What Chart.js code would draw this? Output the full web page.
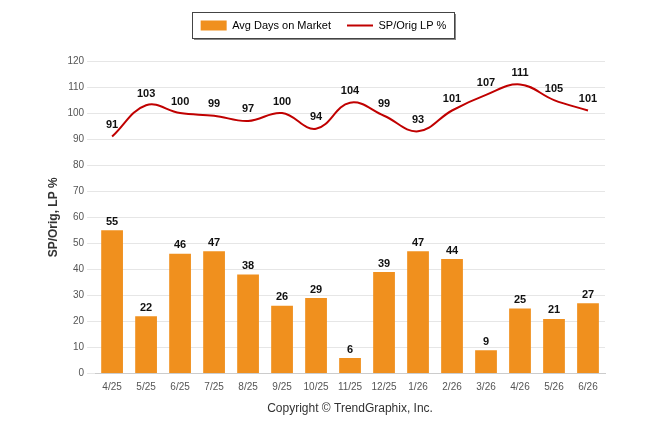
<!DOCTYPE html>
<html>
<head>
<meta charset="utf-8">
<script src="https://cdn.jsdelivr.net/npm/chart.js@4"></script>
<style>
  body { margin: 0; background: #fff; }
  #wrap { width: 646px; height: 434px; position: relative; }
</style>
</head>
<body>
<div id="wrap"><canvas id="chart" width="646" height="434"></canvas></div>
<script>
// data
const months = ['4/25','5/25','6/25','7/25','8/25','9/25','10/25','11/25','12/25','1/26','2/26','3/26','4/26','5/26','6/26'];
const avgDays = [55, 22, 46, 47, 38, 26, 29, 6, 39, 47, 44, 9, 25, 21, 27];
const spOrig = [91, 103, 100, 99, 97, 100, 94, 104, 99, 93, 101, 107, 111, 105, 101];
const yTicks = [0, 10, 20, 30, 40, 50, 60, 70, 80, 90, 100, 110, 120];

// bold value labels above bars and line points
const valueLabels = {
    id: 'valueLabels',
    afterDatasetsDraw(chart) {
        const ctx = chart.ctx;
        ctx.save();
        ctx.font = 'bold 11px Arial, "Liberation Sans", sans-serif';
        ctx.fillStyle = '#111';
        ctx.textAlign = 'center';
        ctx.textBaseline = 'bottom';
        chart.data.datasets.forEach((ds, i) => {
            chart.getDatasetMeta(i).data.forEach((el, j) => {
                ctx.fillText(ds.data[j], el.x, el.y - (ds.type === 'line' ? 6 : 3));
            });
        });
        ctx.restore();
    }
};

// border box with shadow around the legend
const legendBox = {
    id: 'legendBox',
    beforeDraw(chart) {
        const ctx = chart.ctx;
        const w = 262, h = 26;
        const x = (chart.width - w) / 2, y = 12;
        ctx.save();
        ctx.fillStyle = '#888';
        ctx.fillRect(x + 2, y + 2, w, h);
        ctx.fillStyle = '#fff';
        ctx.fillRect(x, y, w, h);
        ctx.strokeStyle = '#444';
        ctx.lineWidth = 1;
        ctx.strokeRect(x + 0.5, y + 0.5, w, h);
        ctx.restore();
    }
};

const afterLegendGap = {
    id: 'afterLegendGap',
    beforeInit(chart) {
        const fit = chart.legend.fit;
        chart.legend.fit = function () { fit.bind(chart.legend)(); this.height += 20; };
    }
};

new Chart(document.getElementById('chart'), {
    data: {
        labels: months,
        datasets: [
            {
                type: 'line',
                label: 'SP/Orig LP %',
                data: spOrig,
                borderColor: '#C00000',
                backgroundColor: '#C00000',
                borderWidth: 2,
                tension: 0.4,
                pointRadius: 0,
                order: 0
            },
            {
                type: 'bar',
                label: 'Avg Days on Market',
                data: avgDays,
                backgroundColor: '#F0901E',
                categoryPercentage: 0.64,
                barPercentage: 1,
                order: 1
            }
        ]
    },
    options: {
        responsive: false,
        animation: false,
        layout: { padding: { left: 42, right: 41, top: 4, bottom: 14 } },
        plugins: {
            legend: {
                display: true,
                position: 'top',
                reverse: true,
                labels: {
                    usePointStyle: true,
                    pointStyleWidth: 26,
                    boxHeight: 10,
                    font: { size: 11, family: 'Arial, "Liberation Sans", sans-serif' },
                    color: '#222',
                    padding: 16,
                    generateLabels(chart) {
                        return chart.data.datasets.map((ds, i) => ({
                            text: ds.label,
                            fillStyle: ds.backgroundColor,
                            strokeStyle: ds.backgroundColor,
                            lineWidth: ds.type === 'line' ? 2 : 0,
                            datasetIndex: i,
                            pointStyle: ds.type === 'line' ? 'line' : 'rect'
                        }));
                    }
                }
            },
            tooltip: { enabled: false }
        },
        scales: {
            x: {
                grid: { display: false },
                border: { color: '#ccc' },
                ticks: { padding: 0, color: '#555', font: { size: 10, family: 'Arial, "Liberation Sans", sans-serif' } },
                title: {
                    display: true,
                    text: 'Copyright © TrendGraphix, Inc.',
                    color: '#333',
                    padding: { top: 8 },
                    font: { size: 12, family: 'Arial, "Liberation Sans", sans-serif' }
                }
            },
            y: {
                min: 0, max: 120,
                afterBuildTicks(axis) { axis.ticks = yTicks.map(v => ({ value: v })); },
                grid: { color: '#e6e6e6' },
                border: { display: false },
                ticks: { color: '#555', font: { size: 10, family: 'Arial, "Liberation Sans", sans-serif' } },
                title: {
                    display: true,
                    text: 'SP/Orig, LP %',
                    color: '#333',
                    font: { size: 12, weight: 'bold', family: 'Arial, "Liberation Sans", sans-serif' }
                }
            }
        }
    },
    plugins: [legendBox, afterLegendGap, valueLabels]
});
</script>
</body>
</html>
